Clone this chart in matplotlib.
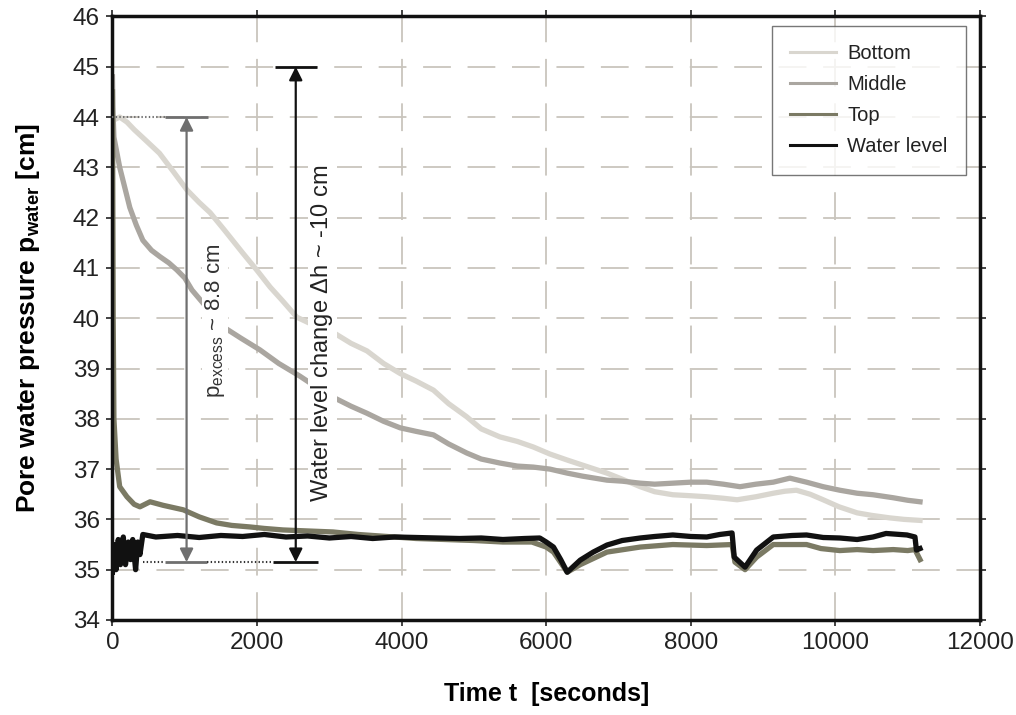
import numpy as np
import matplotlib
matplotlib.use("Agg")
import matplotlib.pyplot as plt

plt.rcParams['font.family'] = ['Liberation Sans', 'DejaVu Sans']
plt.rcParams['mathtext.fontset'] = 'custom'
plt.rcParams['mathtext.rm'] = 'Liberation Sans'
plt.rcParams['mathtext.bf'] = 'Liberation Sans:bold'
plt.rcParams['mathtext.it'] = 'Liberation Sans:italic'
plt.rcParams['lines.scale_dashes'] = False

# ---------------- data ----------------
bottom_t = [0, 30, 100, 200, 300, 450, 650, 850, 1030, 1200, 1350, 1550, 1800, 2000,
            2180, 2350, 2550, 2800, 3050, 3300, 3520, 3750, 3980, 4200, 4440, 4650,
            4900, 5100, 5360, 5600, 5820, 6050, 6290, 6500, 6840, 7050, 7300, 7500,
            7750, 8000, 8220, 8450, 8640, 8900, 9140, 9300, 9460, 9650, 9830, 10050,
            10300, 10500, 10750, 10950, 11170]
bottom_p = [44.0, 43.95, 44.0, 43.9, 43.75, 43.55, 43.28, 42.9, 42.55, 42.3, 42.1, 41.75,
            41.3, 40.95, 40.62, 40.35, 40.02, 39.85, 39.72, 39.5, 39.35, 39.1, 38.9,
            38.75, 38.57, 38.3, 38.04, 37.8, 37.64, 37.55, 37.44, 37.3, 37.18, 37.08,
            36.92, 36.8, 36.65, 36.55, 36.49, 36.47, 36.45, 36.42, 36.39, 36.45, 36.52,
            36.56, 36.58, 36.5, 36.39, 36.25, 36.13, 36.08, 36.03, 36.0, 35.98]

middle_t = [0, 5, 20, 100, 170, 240, 330, 420, 540, 660, 780, 890, 1000, 1100, 1530,
            1780, 2040, 2300, 2590, 2800, 3050, 3300, 3520, 3750, 3980, 4200, 4440,
            4650, 4900, 5100, 5360, 5600, 5820, 6050, 6290, 6500, 6840, 7050, 7300,
            7500, 7750, 8000, 8220, 8450, 8680, 8900, 9140, 9370, 9600, 9830, 10060,
            10300, 10520, 10800, 11000, 11170]
middle_p = [44.8, 44.2, 43.6, 43.0, 42.6, 42.2, 41.85, 41.55, 41.35, 41.22, 41.1, 40.96,
            40.8, 40.56, 39.83, 39.6, 39.37, 39.1, 38.85, 38.65, 38.43, 38.25, 38.11,
            37.95, 37.82, 37.75, 37.68, 37.5, 37.32, 37.2, 37.12, 37.06, 37.04, 37.0,
            36.92, 36.86, 36.78, 36.76, 36.72, 36.7, 36.72, 36.74, 36.74, 36.7, 36.65,
            36.7, 36.74, 36.82, 36.74, 36.65, 36.58, 36.52, 36.49, 36.43, 36.38, 36.35]

top_t = [0, 10, 20, 50, 100, 200, 300, 380, 450, 520, 700, 980, 1200, 1440, 1650, 1900,
         2100, 2360, 2700, 3050, 3400, 3800, 4200, 4600, 5000, 5400, 5800, 6000, 6100,
         6290, 6470, 6840, 7300, 7750, 8220, 8570, 8610, 8750, 8910, 9140, 9600, 9800,
         10060, 10300, 10520, 10800, 11000, 11100, 11170]
top_p = [44.5, 40.0, 38.0, 37.2, 36.65, 36.45, 36.3, 36.25, 36.3, 36.35, 36.28, 36.19,
         36.05, 35.93, 35.88, 35.85, 35.82, 35.79, 35.77, 35.75, 35.7, 35.66, 35.62,
         35.6, 35.58, 35.55, 35.55, 35.45, 35.35, 34.95, 35.1, 35.35, 35.45, 35.5,
         35.48, 35.5, 35.15, 35.0, 35.25, 35.5, 35.5, 35.42, 35.38, 35.4, 35.38, 35.4,
         35.38, 35.4, 35.2]

water_t = [0, 20, 50, 80, 110, 150, 180, 220, 250, 280, 320, 350, 380, 420, 600, 900,
           1200, 1500, 1800, 2100, 2400, 2700, 3000, 3300, 3600, 3900, 4200, 4500, 4800,
           5100, 5400, 5700, 5910, 6000, 6100, 6200, 6290, 6470, 6650, 6840, 7050, 7300,
           7500, 7750, 8000, 8220, 8400, 8570, 8600, 8750, 8910, 9140, 9400, 9600, 9830,
           10060, 10300, 10520, 10700, 10990, 11100, 11120, 11170]
water_p = [34.95, 35.5, 35.0, 35.6, 35.1, 35.65, 35.1, 35.55, 35.2, 35.6, 35.0, 35.55,
           35.3, 35.7, 35.65, 35.68, 35.64, 35.68, 35.66, 35.7, 35.65, 35.67, 35.63,
           35.66, 35.62, 35.65, 35.64, 35.63, 35.62, 35.63, 35.6, 35.62, 35.63, 35.55,
           35.45, 35.2, 34.95, 35.19, 35.35, 35.49, 35.58, 35.63, 35.66, 35.69, 35.66,
           35.65, 35.7, 35.73, 35.25, 35.05, 35.39, 35.65, 35.68, 35.69, 35.64, 35.63,
           35.6, 35.65, 35.72, 35.69, 35.65, 35.39, 35.42]

series_names = ['Bottom', 'Middle', 'Top', 'Water level']
series_colors = ['#d9d6cf', '#aaa6a0', '#7b7a64', '#111111']

# annotation values
p_excess_t = 1025
wl_change_t = 2535
p_high, p_low, wl_high = 44.0, 35.15, 45.0

# ---------------- figure ----------------
fig = plt.figure(figsize=(10.16, 7.15), dpi=100)
ax = fig.add_axes([0.1107, 0.1329, 0.8539, 0.8441])

data = [(bottom_t, bottom_p), (middle_t, middle_p), (top_t, top_p), (water_t, water_p)]
for (t, p), name, c in zip(data, series_names, series_colors):
    ax.plot(t, p, color=c, lw=3.8, label=name, zorder=2, solid_joinstyle='round')

ax.set_xlim(0, 12000)
ax.set_ylim(34, 46)
ax.set_xticks(np.arange(0, 12001, 2000))
ax.set_yticks(np.arange(34, 46.1, 1))
ax.grid(True, color='#c9c5bd', lw=1.3, dashes=(20, 12), zorder=0)
ax.tick_params(axis='both', which='both', direction='out', length=4, width=1.2,
               top=True, right=True, labelsize=17.5, pad=5, colors='#222222')
for s in ax.spines.values():
    s.set_linewidth(2.5)
    s.set_color('#111111')

ax.set_xlabel('Time t  [seconds]', fontsize=18, fontweight='bold', labelpad=20)
ax.set_ylabel(r'Pore water pressure p$_{\mathbf{water}}$ [cm]', fontsize=19,
              fontweight='bold', labelpad=22)

# reference bars
gray = '#6f6f6f'
ax.hlines(p_high, 0, 725, colors=gray, linestyles=':', lw=1.5, zorder=4)
ax.hlines(p_high, 725, 1320, colors=gray, lw=2, zorder=4)
ax.hlines(p_low, 420, 725, colors='#333333', linestyles=':', lw=1.5, zorder=4)
ax.hlines(p_low, 725, 1310, colors=gray, lw=2, zorder=4)
ax.hlines(p_low, 1310, 2220, colors='#333333', linestyles=':', lw=1.5, zorder=4)
ax.hlines(p_low, 2220, 2840, colors='#111111', lw=2, zorder=4)
ax.hlines(wl_high, 2250, 2830, colors='#111111', lw=2, zorder=4)

ax.annotate('', xy=(p_excess_t, p_high), xytext=(p_excess_t, p_low),
            arrowprops=dict(arrowstyle='<|-|>', color=gray, lw=1.6,
                            mutation_scale=20, shrinkA=0, shrinkB=0), zorder=5)
ax.annotate('', xy=(wl_change_t, wl_high), xytext=(wl_change_t, p_low),
            arrowprops=dict(arrowstyle='<|-|>', color='#111111', lw=1.6,
                            mutation_scale=20, shrinkA=0, shrinkB=0), zorder=5)

ax.text(1420, 39.95, r'p$_{\mathrm{excess}}$ ~ 8.8 cm', rotation=90, fontsize=16,
        color='#333333', ha='center', va='center', zorder=3,
        bbox=dict(facecolor='white', edgecolor='none', pad=1))
ax.text(2900, 39.7, r'Water level change $\Delta$h ~ -10 cm', rotation=90, fontsize=17,
        color='#222222', ha='center', va='center', zorder=3,
        bbox=dict(facecolor='white', edgecolor='none', pad=1))

leg = ax.legend(loc='upper left', bbox_to_anchor=(0.760, 0.984), fontsize=14.5,
                frameon=True, fancybox=False, edgecolor='#555555', handlelength=2.3,
                handletextpad=0.55, labelspacing=0.6, borderpad=0.9, borderaxespad=0)
leg.get_frame().set_linewidth(1.0)
for line in leg.get_lines():
    line.set_linewidth(2.2)
for txt in leg.get_texts():
    txt.set_color('#222222')

fig.savefig('out.png', dpi=100)
